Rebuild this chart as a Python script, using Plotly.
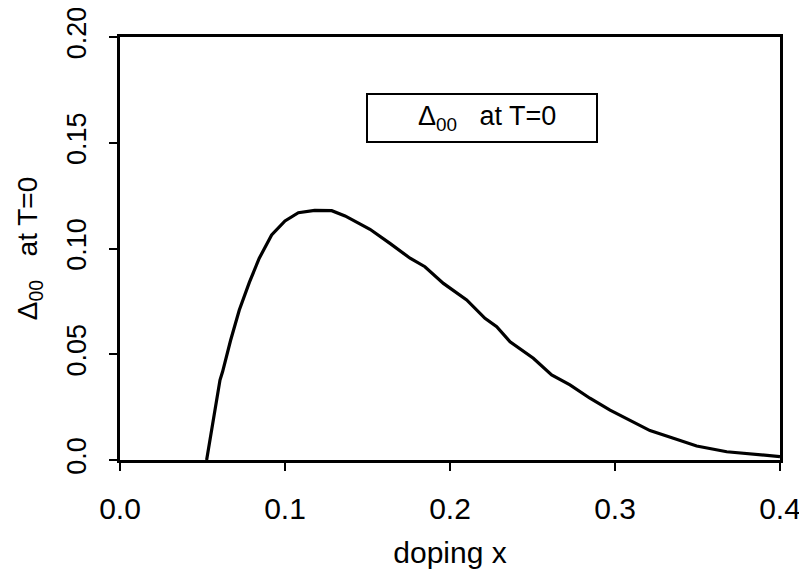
import plotly.graph_objects as go

doping_x = [0.0525, 0.0606, 0.0622, 0.0670, 0.0723, 0.0784, 0.0844, 0.0919, 0.1000,
            0.1081, 0.1180, 0.1283, 0.1364, 0.1440, 0.1515, 0.1636, 0.1758, 0.1848,
            0.1960, 0.2101, 0.2212, 0.2283, 0.2364, 0.2505, 0.2616, 0.2727, 0.2848,
            0.2970, 0.3091, 0.3212, 0.3354, 0.3495, 0.3677, 0.3838, 0.4000]
delta00 = [0.0000, 0.0378, 0.0418, 0.0565, 0.0709, 0.0840, 0.0954, 0.1064, 0.1130,
           0.1169, 0.1180, 0.1179, 0.1154, 0.1123, 0.1091, 0.1024, 0.0954, 0.0914,
           0.0835, 0.0757, 0.0670, 0.0630, 0.0559, 0.0481, 0.0402, 0.0355, 0.0292,
           0.0236, 0.0189, 0.0139, 0.0103, 0.0066, 0.0039, 0.0027, 0.0016]

x_ticks = [0.0, 0.1, 0.2, 0.3, 0.4]
x_tick_labels = ["0.0", "0.1", "0.2", "0.3", "0.4"]
y_ticks = [0.0, 0.05, 0.10, 0.15, 0.20]
y_tick_labels = ["0.0", "0.05", "0.10", "0.15", "0.20"]

FONT = "Liberation Sans, Arial, Helvetica, sans-serif"

fig = go.Figure()
fig.add_trace(go.Scatter(x=doping_x, y=delta00, mode="lines",
                         line=dict(color="black", width=3.2), showlegend=False))

axis_common = dict(showline=True, linecolor="black", linewidth=3, mirror=True,
                   ticks="outside", ticklen=8, tickwidth=2, tickcolor="black",
                   showgrid=False, zeroline=False, ticklabeloverflow="allow",
                   automargin=False)

fig.update_xaxes(range=[0, 0.4], tickvals=x_ticks, ticktext=x_tick_labels,
                 ticklabelstandoff=12,
                 tickfont=dict(family=FONT, size=30, color="black"),
                 title=dict(text="doping x", font=dict(family=FONT, size=30, color="black"),
                            standoff=18),
                 **axis_common)
fig.update_yaxes(range=[0, 0.2], tickvals=y_ticks, ticktext=y_tick_labels,
                 tickangle=-90, ticklabelstandoff=12,
                 tickfont=dict(family=FONT, size=27, color="black"),
                 title=dict(text="Δ<sub>00</sub>   at T=0",
                            font=dict(family=FONT, size=28, color="black"),
                            standoff=17),
                 **axis_common)

# plot area spans paper pixels x 112..772, y 29..452 (page adds 8px body margin)
fig.add_shape(type="rect", xref="paper", yref="paper",
              x0=(367 - 120) / 660, x1=(597 - 120) / 660,
              y0=(460 - 142) / 423, y1=(460 - 94) / 423,
              line=dict(color="black", width=2), fillcolor="white")
fig.add_annotation(xref="paper", yref="paper",
                   x=(487 - 120) / 660, y=(460 - 118) / 423,
                   xanchor="center", yanchor="middle",
                   text="Δ<sub>00</sub>   at T=0", showarrow=False,
                   font=dict(family=FONT, size=27, color="black"))

fig.update_layout(width=807, height=573, plot_bgcolor="white", paper_bgcolor="white",
                  margin=dict(l=112, r=35, t=29, b=121, autoexpand=False))

fig.write_html("out.html")
